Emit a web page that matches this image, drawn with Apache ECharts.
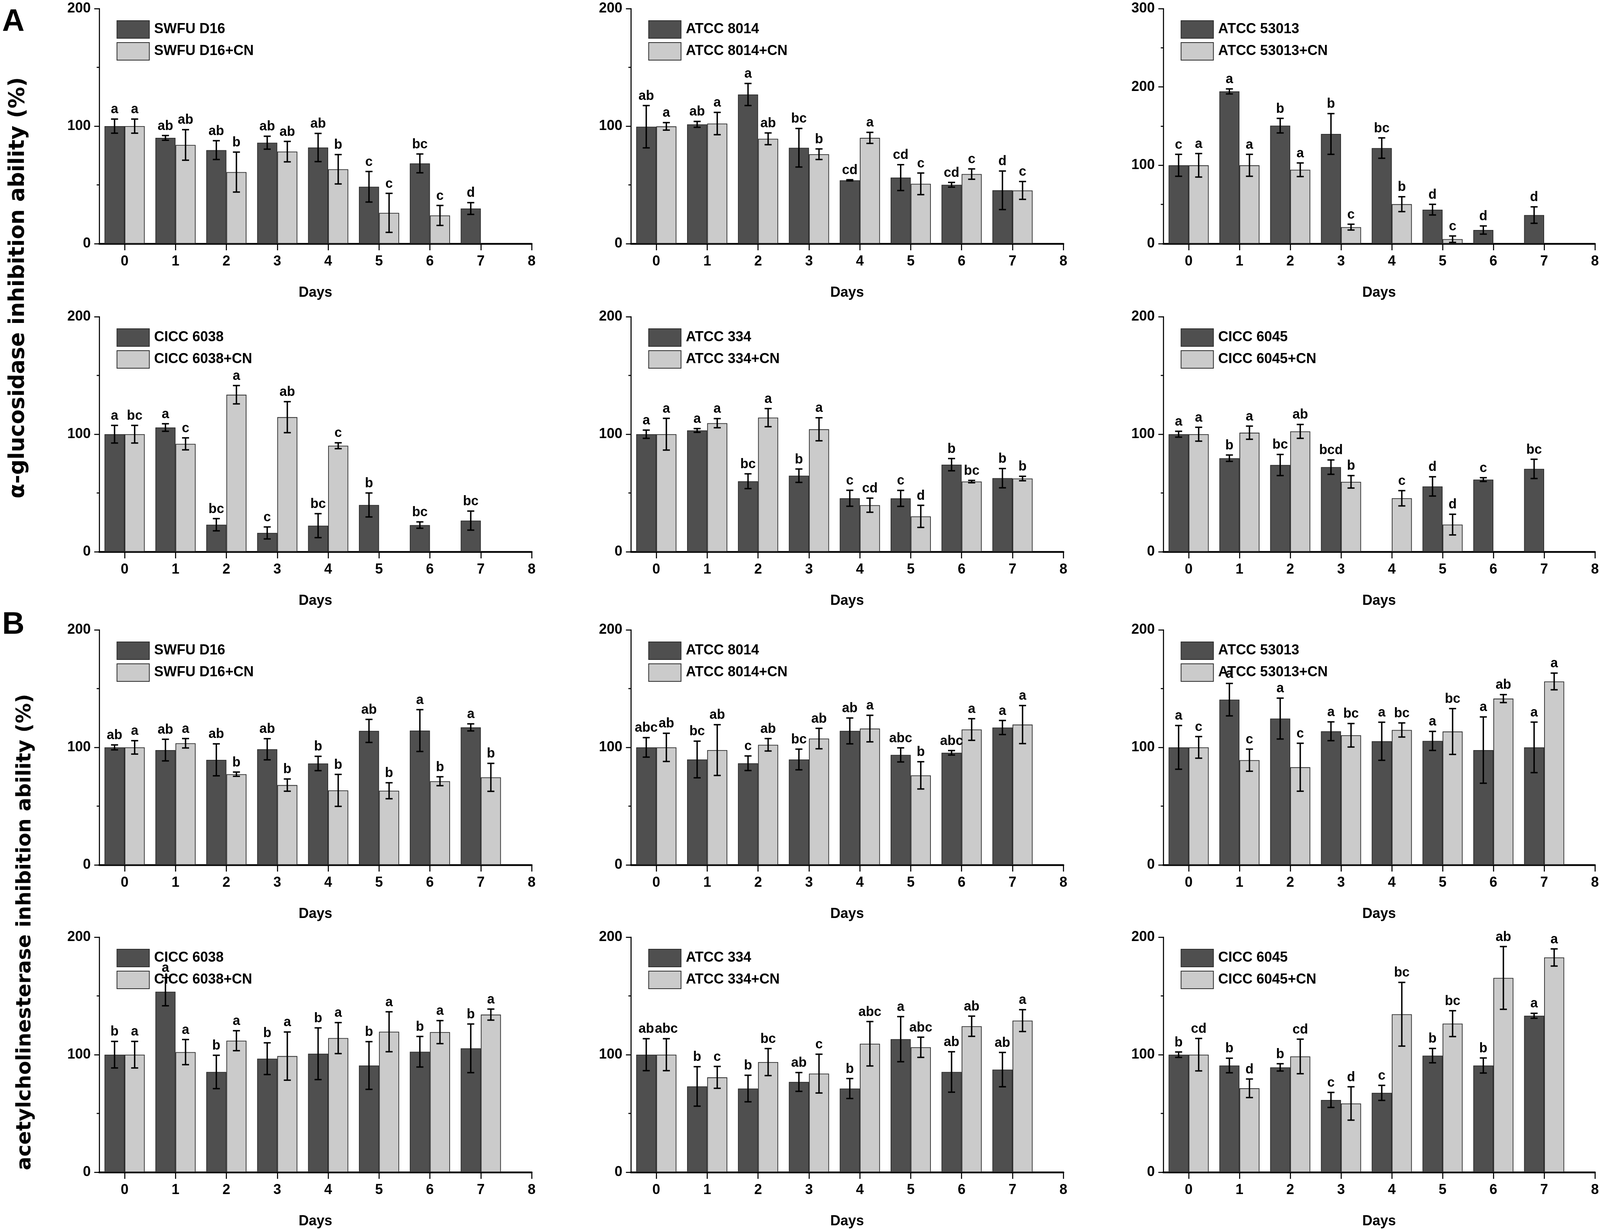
<!DOCTYPE html>
<html><head><meta charset="utf-8">
<script src="https://cdn.jsdelivr.net/npm/echarts@6/dist/echarts.min.js"></script>
<style>html,body{margin:0;padding:0;background:#fff;overflow:hidden}#chart{width:100vw;height:100vh}</style>
</head><body><div id="chart"></div><script>
// ---------- data ----------
const days = [0, 1, 2, 3, 4, 5, 6, 7];
const xTickValues = [0, 1, 2, 3, 4, 5, 6, 7, 8];
const strains = ['SWFU D16', 'ATCC 8014', 'ATCC 53013', 'CICC 6038', 'ATCC 334', 'CICC 6045'];
const yMaxA = [200, 200, 300, 200, 200, 200];
const yMaxB = [200, 200, 200, 200, 200, 200];

// A: alpha-glucosidase inhibition ability (%)
const A1_mean = [100, 90, 79.6, 85.9, 81.8, 48.4, 68.3, 29.9];
const A1_err  = [6, 2, 8, 5.5, 12, 13, 8, 5];
const A1_sig  = ['a', 'ab', 'ab', 'ab', 'ab', 'c', 'bc', 'd'];
const A1cn_mean = [100, 84, 60.9, 78.3, 63.3, 26.2, 24, null];
const A1cn_err  = [6, 13, 17, 8.7, 12.5, 16.6, 8.5, null];
const A1cn_sig  = ['a', 'ab', 'b', 'ab', 'b', 'c', 'c', null];

const A2_mean = [99.5, 101.5, 126.9, 81.6, 53.9, 56.2, 50.1, 45.4];
const A2_err  = [18, 2.5, 9.4, 16.4, 0.5, 11, 2, 16.4];
const A2_sig  = ['ab', 'ab', 'a', 'bc', 'cd', 'cd', 'cd', 'd'];
const A2cn_mean = [99.8, 102.2, 89.2, 76.1, 90, 50.9, 59.2, 45.3];
const A2cn_err  = [3.2, 9.5, 5, 4.5, 4.7, 9.2, 4.4, 7.6];
const A2cn_sig  = ['a', 'a', 'ab', 'b', 'a', 'c', 'c', 'c'];

const A3_mean = [100, 194.3, 150.6, 140, 122, 43.4, 17.4, 36.5];
const A3_err  = [14, 3.2, 9.3, 26, 13, 6.8, 5.2, 10.5];
const A3_sig  = ['c', 'a', 'b', 'b', 'bc', 'd', 'd', 'd'];
const A3cn_mean = [100, 100, 94.3, 21.1, 50.4, 5.7, null, null];
const A3cn_err  = [15, 14, 8.7, 3.7, 9.5, 4.1, null, null];
const A3cn_sig  = ['a', 'a', 'a', 'c', 'b', 'c', null, null];

const A4_mean = [100, 105.7, 23, 16, 22.2, 39.8, 22.7, 26.5];
const A4_err  = [7.5, 3.2, 5.2, 5.1, 10.2, 10.2, 2.7, 8.1];
const A4_sig  = ['a', 'a', 'bc', 'c', 'bc', 'b', 'bc', 'bc'];
const A4cn_mean = [100, 91.8, 133.6, 114.5, 90.2, null, null, null];
const A4cn_err  = [7.5, 5.1, 7.8, 13.2, 2.5, null, null, null];
const A4cn_sig  = ['bc', 'c', 'a', 'ab', 'c', null, null, null];

const A5_mean = [100, 103.2, 60, 64.7, 45.5, 45.4, 74.1, 62.6];
const A5_err  = [3.5, 1.6, 6.3, 5.7, 6.8, 6.8, 5.2, 8.2];
const A5_sig  = ['a', 'a', 'bc', 'b', 'c', 'c', 'b', 'b'];
const A5cn_mean = [100, 109.4, 114.1, 104.2, 39.6, 30.1, 59.7, 62.3];
const A5cn_err  = [13.5, 3.9, 7.7, 9.8, 6, 9.4, 1, 1.9];
const A5cn_sig  = ['a', 'a', 'a', 'a', 'cd', 'd', 'bc', 'b'];

const A6_mean = [100, 79.6, 73.8, 72, null, 55.6, 61.4, 70.5];
const A6_err  = [2.5, 2.7, 9, 6.1, null, 8.2, 1.6, 8.2];
const A6_sig  = ['a', 'b', 'bc', 'bcd', null, 'd', 'c', 'bc'];
const A6cn_mean = [100, 101.3, 102.4, 59.5, 45.5, 23.1, null, null];
const A6cn_err  = [5.9, 5.6, 5.9, 5.3, 6.5, 8.8, null, null];
const A6cn_sig  = ['a', 'a', 'ab', 'b', 'c', 'd', null, null];

// B: acetylcholinesterase inhibition ability (%)
const B1_mean = [100, 97.7, 89.4, 98.4, 86.3, 114, 114.3, 117];
const B1_err  = [2.1, 9.2, 13.6, 9, 6.1, 9.8, 17.8, 3];
const B1_sig  = ['ab', 'ab', 'ab', 'ab', 'b', 'ab', 'a', 'a'];
const B1cn_mean = [100, 103.5, 77.2, 67.9, 63.4, 63.1, 71.2, 74.5];
const B1cn_err  = [5.7, 4, 1.8, 5.2, 13.6, 6.8, 3.8, 11.9];
const B1cn_sig  = ['a', 'a', 'b', 'b', 'b', 'b', 'b', 'b'];

const B2_mean = [100, 89.7, 86.5, 89.7, 114, 93.6, 95.4, 116.9];
const B2_err  = [8.3, 15.6, 6.2, 8.8, 11, 6, 1.9, 6];
const B2_sig  = ['abc', 'bc', 'c', 'bc', 'ab', 'abc', 'abc', 'a'];
const B2cn_mean = [100, 97.7, 102.2, 107.5, 116, 76.2, 115.2, 119.4];
const B2cn_err  = [12, 21.6, 5.3, 8.7, 11.3, 11.6, 9.2, 16.2];
const B2cn_sig  = ['ab', 'ab', 'ab', 'ab', 'a', 'b', 'a', 'a'];

const B3_mean = [100, 140.6, 124.5, 113.7, 105.2, 105.5, 97.7, 100];
const B3_err  = [18.6, 13.8, 17.4, 8, 16.2, 8.1, 28.2, 21.5];
const B3_sig  = ['a', 'a', 'a', 'a', 'a', 'a', 'a', 'a'];
const B3cn_mean = [100, 89.1, 83.1, 110.3, 114.8, 113.5, 141.5, 156.1];
const B3cn_err  = [9.2, 9.4, 20.4, 10, 6, 19.5, 3.4, 7.1];
const B3cn_sig  = ['c', 'c', 'c', 'bc', 'bc', 'bc', 'ab', 'a'];

const B4_mean = [100, 153.6, 85.3, 96.6, 100.8, 90.8, 102.5, 105.4];
const B4_err  = [11.3, 12, 14.2, 13.5, 22, 20.3, 13, 20.7];
const B4_sig  = ['b', 'a', 'b', 'b', 'b', 'b', 'b', 'b'];
const B4cn_mean = [100, 102.2, 111.9, 98.8, 114.1, 119.5, 119.2, 134.1];
const B4cn_err  = [11.3, 10.7, 8.5, 20.5, 13.2, 17, 9.8, 4.7];
const B4cn_sig  = ['a', 'a', 'a', 'a', 'a', 'a', 'a', 'a'];

const B5_mean = [100, 73, 71.2, 76.8, 71.2, 113.2, 85.3, 87.3];
const B5_err  = [13.6, 16.8, 11.3, 8, 8.5, 19.2, 17.2, 14.6];
const B5_sig  = ['ab', 'b', 'b', 'ab', 'b', 'a', 'ab', 'ab'];
const B5cn_mean = [100, 80.7, 93.7, 83.9, 109.3, 106.3, 124.2, 129];
const B5cn_err  = [13.6, 9.3, 11.5, 16.5, 18.9, 8.6, 8.6, 9.3];
const B5cn_sig  = ['abc', 'c', 'bc', 'c', 'abc', 'abc', 'ab', 'a'];

const B6_mean = [100, 90.8, 89.2, 61.5, 67.5, 99.2, 90.8, 133.1];
const B6_err  = [2.3, 6.2, 3.1, 6.4, 6.4, 6.1, 6.4, 2.1];
const B6_sig  = ['b', 'b', 'b', 'c', 'c', 'b', 'b', 'a'];
const B6cn_mean = [100, 71.4, 98.5, 58.5, 134.4, 126.4, 165.3, 182.7];
const B6cn_err  = [13.8, 7.9, 14.7, 14.2, 27.1, 11, 26.7, 7.3];
const B6cn_sig  = ['cd', 'd', 'cd', 'd', 'bc', 'bc', 'ab', 'a'];

// ---------- layout (designed for 4550 x 3150, scaled to the window) ----------
const W = window.innerWidth || 4550, H = window.innerHeight || 3150;
const sx = W / 4550, sy = H / 3150, sf = Math.min(sx, sy);
const X = v => v * sx, Y = v => v * sy, F = v => v * sf;

const colLeft = [282, 1794, 3308];
const rowTop = [22, 811, 1613, 2400];
const gridW = 1230, gridH = 602;
const FONT = '"Liberation Sans", Arial, sans-serif';
const TITLE_FONT = '"DejaVu Sans", Verdana, sans-serif';
const DARK = '#4f4f4f', LIGHT = '#cbcbcb';

const panels = [
  [A1_mean, A1_err, A1_sig, A1cn_mean, A1cn_err, A1cn_sig],
  [A2_mean, A2_err, A2_sig, A2cn_mean, A2cn_err, A2cn_sig],
  [A3_mean, A3_err, A3_sig, A3cn_mean, A3cn_err, A3cn_sig],
  [A4_mean, A4_err, A4_sig, A4cn_mean, A4cn_err, A4cn_sig],
  [A5_mean, A5_err, A5_sig, A5cn_mean, A5cn_err, A5cn_sig],
  [A6_mean, A6_err, A6_sig, A6cn_mean, A6cn_err, A6cn_sig],
  [B1_mean, B1_err, B1_sig, B1cn_mean, B1cn_err, B1cn_sig],
  [B2_mean, B2_err, B2_sig, B2cn_mean, B2cn_err, B2cn_sig],
  [B3_mean, B3_err, B3_sig, B3cn_mean, B3cn_err, B3cn_sig],
  [B4_mean, B4_err, B4_sig, B4cn_mean, B4cn_err, B4cn_sig],
  [B5_mean, B5_err, B5_sig, B5cn_mean, B5cn_err, B5cn_sig],
  [B6_mean, B6_err, B6_sig, B6cn_mean, B6cn_err, B6cn_sig]
];

const BAR_FRAC = 0.79; // pair of bars occupies 79% of one day

function makeRender(side, sigs) {
  return function (params, api) {
    const x = api.value(0), y = api.value(1), e = api.value(2);
    const unit = api.size([1, 0])[0];
    const px = api.coord([x, y])[0] + side * unit * BAR_FRAC / 4;
    const top = api.coord([x, y + e])[1];
    const bot = api.coord([x, Math.max(0, y - e)])[1];
    const cap = X(10);
    const ls = { stroke: '#000', lineWidth: F(4) };
    return {
      type: 'group',
      children: [
        { type: 'line', shape: { x1: px, y1: top, x2: px, y2: bot }, style: ls },
        { type: 'line', shape: { x1: px - cap, y1: top, x2: px + cap, y2: top }, style: ls },
        { type: 'line', shape: { x1: px - cap, y1: bot, x2: px + cap, y2: bot }, style: ls },
        { type: 'text', style: { text: sigs[params.dataIndex], x: px, y: top - Y(7), align: 'center', verticalAlign: 'bottom',
            fontSize: F(38), fontWeight: 'bold', fontFamily: FONT, fill: '#000' } }
      ]
    };
  };
}

const grid = [], xAxis = [], yAxis = [], legend = [], series = [];
panels.forEach(function (p, i) {
  const row = Math.floor(i / 3), col = i % 3;
  const strain = strains[i % 6];
  const ymax = i < 6 ? yMaxA[i] : yMaxB[i - 6];
  grid.push({ left: X(colLeft[col]), top: Y(rowTop[row]), width: X(gridW), height: Y(gridH) });
  xAxis.push({
    type: 'value', gridIndex: i, min: -0.5, max: 8,
    name: 'Days', nameLocation: 'middle', nameGap: Y(108),
    nameTextStyle: { fontSize: F(40), fontWeight: 'bold', fontFamily: FONT, color: '#000' },
    axisLine: { show: true, onZero: false, lineStyle: { color: '#000', width: F(5) } },
    axisTick: { show: true, length: Y(17), customValues: xTickValues, lineStyle: { color: '#000', width: F(3) } },
    axisLabel: { show: true, customValues: xTickValues, fontSize: F(40), fontWeight: 'bold', fontFamily: FONT, color: '#000', margin: Y(28) },
    splitLine: { show: false }
  });
  yAxis.push({
    type: 'value', gridIndex: i, min: 0, max: ymax, interval: 100,
    axisLine: { show: true, onZero: false, lineStyle: { color: '#000', width: F(3) } },
    axisTick: { show: true, length: X(14), lineStyle: { color: '#000', width: F(3) } },
    minorTick: { show: true, splitNumber: 2, length: X(7), lineStyle: { color: '#000', width: F(3) } },
    axisLabel: { fontSize: F(40), fontWeight: 'bold', fontFamily: FONT, color: '#000', margin: X(24) },
    splitLine: { show: false }, minorSplitLine: { show: false }
  });
  legend.push({
    data: [strain, strain + '+CN'], orient: 'vertical',
    left: X(colLeft[col] + 44), top: Y(rowTop[row] + 25),
    itemWidth: X(92), itemHeight: Y(45), itemGap: Y(9), icon: 'rect', selectedMode: false,
    textStyle: { fontSize: F(40), fontWeight: 'bold', fontFamily: FONT, color: '#000', padding: [0, 0, 0, X(8)] }
  });
  const groups = [
    { name: strain, mean: p[0], err: p[1], sig: p[2], color: DARK, side: -1 },
    { name: strain + '+CN', mean: p[3], err: p[4], sig: p[5], color: LIGHT, side: 1 }
  ];
  groups.forEach(function (g) {
    const barData = [], errData = [], sigs = [];
    days.forEach(function (d, k) {
      if (g.mean[k] == null) return;
      barData.push([d, g.mean[k]]);
      errData.push([d, g.mean[k], g.err[k]]);
      sigs.push(g.sig[k]);
    });
    series.push({
      type: 'bar', name: g.name, xAxisIndex: i, yAxisIndex: i, data: barData,
      barGap: '0%', barCategoryGap: '21%', animation: false,
      itemStyle: { color: g.color, borderColor: '#2b2b2b', borderWidth: F(2) }
    });
    series.push({
      type: 'custom', name: 'err_' + i + '_' + g.side, xAxisIndex: i, yAxisIndex: i,
      data: errData, encode: { x: 0, y: 1 }, renderItem: makeRender(g.side, sigs),
      z: 10, silent: true, clip: false, animation: false
    });
  });
});

const chart = echarts.init(document.getElementById('chart'), null, { renderer: 'canvas', width: W, height: H });
chart.setOption({
  backgroundColor: '#fff',
  animation: false,
  grid: grid, xAxis: xAxis, yAxis: yAxis, legend: legend, series: series,
  graphic: [
    { type: 'text', left: X(6), top: Y(18), style: { text: 'A', fontSize: F(88), fontWeight: 'bold', fontFamily: FONT, fill: '#000' } },
    { type: 'text', left: X(6), top: Y(1562), style: { text: 'B', fontSize: F(88), fontWeight: 'bold', fontFamily: FONT, fill: '#000' } },
    { type: 'text', x: X(52), y: Y(737), rotation: Math.PI / 2,
      style: { text: 'α-glucosidase inhibition ability (%)', align: 'center', verticalAlign: 'middle',
        fontSize: F(61), fontWeight: 'bold', fontFamily: TITLE_FONT, fill: '#000' } },
    { type: 'text', x: X(72), y: Y(2387), rotation: Math.PI / 2,
      style: { text: 'acetylcholinesterase inhibition ability (%)', align: 'center', verticalAlign: 'middle',
        fontSize: F(57.5), fontWeight: 'bold', fontFamily: TITLE_FONT, fill: '#000' } }
  ]
});
</script></body></html>
